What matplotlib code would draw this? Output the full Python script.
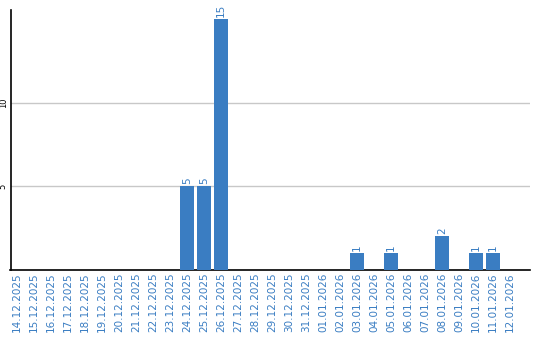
import matplotlib
matplotlib.use("Agg")
import matplotlib.pyplot as plt

dates = ["14.12.2025", "15.12.2025", "16.12.2025", "17.12.2025", "18.12.2025",
         "19.12.2025", "20.12.2025", "21.12.2025", "22.12.2025", "23.12.2025",
         "24.12.2025", "25.12.2025", "26.12.2025", "27.12.2025", "28.12.2025",
         "29.12.2025", "30.12.2025", "31.12.2025", "01.01.2026", "02.01.2026",
         "03.01.2026", "04.01.2026", "05.01.2026", "06.01.2026", "07.01.2026",
         "08.01.2026", "09.01.2026", "10.01.2026", "11.01.2026", "12.01.2026"]
values = [0, 0, 0, 0, 0, 0, 0, 0, 0, 0,
          5, 5, 15, 0, 0, 0, 0, 0, 0, 0,
          1, 0, 1, 0, 0, 2, 0, 1, 1, 0]
yticks = [5, 10]

bar_color = "#3a7dc2"
text_color = "#3a7dc2"

fig = plt.figure(figsize=(5.4, 3.4), dpi=100)
ax = fig.add_axes([10.5 / 540, 1 - 269.5 / 340, (530 - 10.5) / 540, (269.5 - 10) / 340])

x = list(range(len(dates)))
ax.bar(x, values, width=0.82, color=bar_color, zorder=3)
for xi, v in zip(x, values):
    if v > 0:
        ax.text(xi, v + 0.12, str(v), rotation=90, ha="center", va="bottom",
                color=text_color, fontsize=7.5)

ax.set_xlim(-0.38, 30.18)
ax.set_ylim(0, 15.54)
ax.set_yticks(yticks)
ax.set_yticklabels([str(t) for t in yticks], rotation=90, fontsize=6, va="center")
ax.set_xticks(x)
ax.set_xticklabels(dates, rotation=90, fontsize=7.5, color=text_color)
ax.tick_params(axis="both", length=0, pad=2)
ax.yaxis.grid(True, color="#c8c8c8", linewidth=1, zorder=0)
ax.set_axisbelow(True)
for s in ["top", "right"]:
    ax.spines[s].set_visible(False)
ax.spines["left"].set_linewidth(1.2)
ax.spines["bottom"].set_linewidth(1.2)

fig.savefig("out.png", dpi=100)
